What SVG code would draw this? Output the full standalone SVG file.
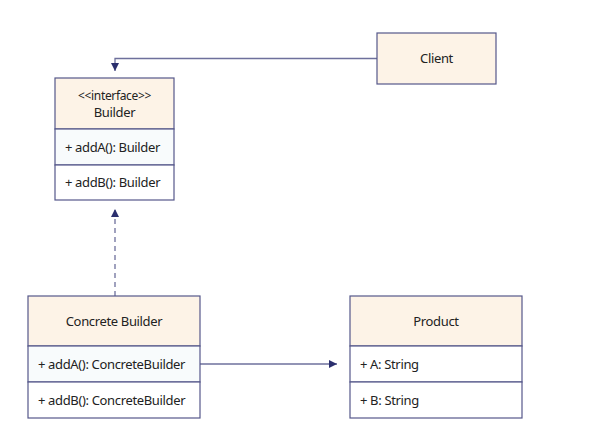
<svg xmlns="http://www.w3.org/2000/svg" width="602" height="442" viewBox="0 0 602 442">
<defs>
<marker id="arr" markerWidth="10" markerHeight="10" refX="9" refY="5" orient="auto" markerUnits="userSpaceOnUse">
<path d="M1,1 L9,5 L1,9 Z" fill="#2b2f6e"/>
</marker>
<style>
.hd{fill:#fdf3e7;stroke:#55588a;stroke-width:1.2}
.rw{fill:#ffffff;stroke:#55588a;stroke-width:1.2}
.rw1{fill:#f8fbfc;stroke:#55588a;stroke-width:1.2}
text{font-family:"Noto Sans","Liberation Sans",sans-serif;font-size:13px;letter-spacing:-0.35px;fill:#222}
.c{text-anchor:middle}
.ln{fill:none;stroke:#6e709c;stroke-width:1.3}
</style>
</defs>
<rect width="602" height="442" fill="#ffffff"/>
<g id="connectors">
<path class="ln" d="M377,58.5 H115 V71" marker-end="url(#arr)"/>
<path class="ln" d="M115,296 V209" stroke-dasharray="5,4" marker-end="url(#arr)"/>
<path class="ln" d="M200,364 H337" marker-end="url(#arr)"/>
</g>
<g id="client">
<rect class="hd" x="377" y="33" width="119" height="51"/>
<text class="c" x="436.5" y="63">Client</text>
</g>
<g id="builder">
<rect class="hd" x="55" y="78" width="119" height="51"/>
<rect class="rw1" x="55" y="129" width="119" height="36"/>
<rect class="rw" x="55" y="165" width="119" height="35"/>
<text class="c" x="114.5" y="100" style="font-size:12px">&lt;&lt;interface&gt;&gt;</text>
<text class="c" x="114.5" y="117">Builder</text>
<text x="65" y="152">+ addA(): Builder</text>
<text x="65" y="187">+ addB(): Builder</text>
</g>
<g id="concrete-builder">
<rect class="hd" x="28" y="296" width="172" height="50"/>
<rect class="rw1" x="28" y="346" width="172" height="36"/>
<rect class="rw" x="28" y="382" width="172" height="36"/>
<text class="c" x="114" y="326">Concrete Builder</text>
<text x="38" y="369">+ addA(): ConcreteBuilder</text>
<text x="38" y="405">+ addB(): ConcreteBuilder</text>
</g>
<g id="product">
<rect class="hd" x="350" y="296" width="172" height="50"/>
<rect class="rw" x="350" y="346" width="172" height="36"/>
<rect class="rw" x="350" y="382" width="172" height="36"/>
<text class="c" x="436" y="326">Product</text>
<text x="360" y="369">+ A: String</text>
<text x="360" y="405">+ B: String</text>
</g>
</svg>
